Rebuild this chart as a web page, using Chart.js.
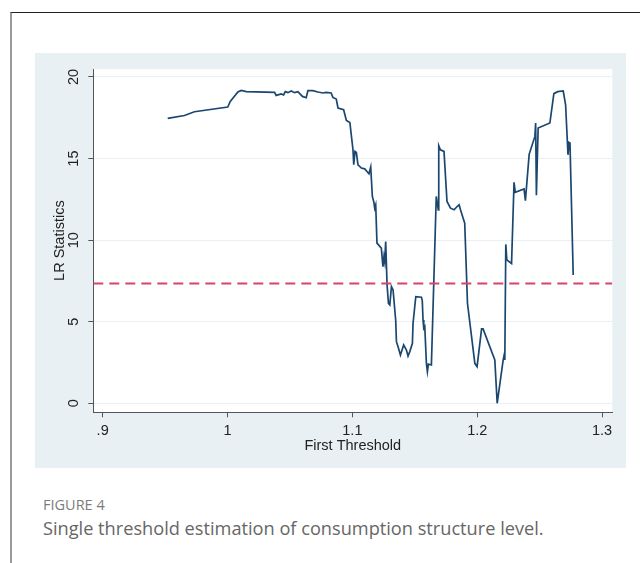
<!DOCTYPE html>
<html>
<head>
<meta charset="utf-8">
<script src="https://cdn.jsdelivr.net/npm/chart.js@4.4.1/dist/chart.umd.min.js"></script>
<style>
  html, body { margin: 0; padding: 0; background: #fff; }
  body { width: 640px; height: 563px; position: relative; overflow: hidden; }
  #frame {
    position: absolute; left: 10px; top: 12px; right: 0; bottom: 0;
    border-top: 1.5px solid #222; border-left: 2px solid #9a9a9a;
  }
  #panel {
    position: absolute; left: 35px; top: 53px; width: 591px; height: 415px;
    background: #e8f0f3;
  }
  .fig { position: absolute; left: 43px; font-family: "Open Sans", sans-serif; }
  #figno { top: 495px; font-size: 14.5px; color: #7c7c7c; }
  #figcap { top: 516px; font-size: 18.2px; color: #666; }
</style>
</head>
<body>
<div id="frame"></div>
<div id="panel"><canvas id="chart"></canvas></div>
<div class="fig" id="figno">FIGURE 4</div>
<div class="fig" id="figcap">Single threshold estimation of consumption structure level.</div>
<script>
// threshold grid (x) and LR statistic (y)
const thresholds = [
  0.9521, 0.9655, 0.9735, 1.0002, 1.0022, 1.0083, 1.0110, 1.0150, 1.0377, 1.0390,
  1.0430, 1.0449, 1.0463, 1.0484, 1.0510, 1.0537, 1.0564, 1.0600, 1.0630, 1.0644,
  1.0684, 1.0724, 1.0764, 1.0790, 1.0830, 1.0844, 1.0871, 1.0885, 1.0930, 1.0952,
  1.0980, 1.1005, 1.1011, 1.1021, 1.1032, 1.1045, 1.1072, 1.1099, 1.1117, 1.1133,
  1.1147, 1.1160, 1.1171, 1.1179, 1.1187, 1.1197, 1.1232, 1.1245, 1.1253, 1.1259,
  1.1267, 1.1278, 1.1289, 1.1300, 1.1313, 1.1326, 1.1347, 1.1353, 1.1366, 1.1385,
  1.1411, 1.1433, 1.1446, 1.1460, 1.1481, 1.1486, 1.1508, 1.1553, 1.1560, 1.1566,
  1.1572, 1.1580, 1.1593, 1.1601, 1.1609, 1.1633, 1.1672, 1.1688, 1.1692, 1.1705,
  1.1734, 1.1758, 1.1786, 1.1815, 1.1839, 1.1855, 1.1866, 1.1900, 1.1922, 1.1981,
  1.1999, 1.2035, 1.2047, 1.2141, 1.2160, 1.2208, 1.2216, 1.2221, 1.2229, 1.2237,
  1.2275, 1.2295, 1.2305, 1.2375, 1.2386, 1.2416, 1.2462, 1.2468, 1.2474, 1.2488,
  1.2582, 1.2614, 1.2644, 1.2689, 1.2708, 1.2727, 1.2735, 1.2743, 1.2769
];
const lrStats = [
  17.46, 17.64, 17.87, 18.16, 18.50, 19.08, 19.18, 19.10, 19.06, 18.87,
  18.96, 18.90, 19.10, 19.04, 19.14, 19.04, 19.10, 18.81, 18.73, 19.16,
  19.16, 19.08, 19.02, 19.06, 19.02, 18.75, 18.65, 18.10, 17.99, 17.34,
  17.21, 15.54, 14.62, 15.44, 15.37, 14.62, 14.42, 14.37, 14.21, 14.07,
  14.48, 12.68, 12.37, 11.96, 12.17, 9.82, 9.51, 8.38, 8.99, 8.69,
  9.91, 7.26, 6.13, 6.03, 7.15, 6.95, 5.11, 3.78, 3.47, 2.96,
  3.58, 3.27, 2.90, 3.17, 3.68, 4.91, 6.54, 6.50, 6.30, 5.10,
  4.60, 4.70, 2.45, 1.94, 2.40, 2.35, 12.68, 11.86, 15.79, 15.54,
  15.44, 12.37, 11.96, 11.86, 12.06, 12.17, 11.86, 11.04, 6.13, 2.45,
  2.25, 4.56, 4.56, 2.66, 0.00, 2.66, 2.96, 2.66, 9.74, 8.79,
  8.57, 13.55, 12.93, 13.14, 12.42, 15.26, 16.36, 17.18, 12.75, 16.87,
  17.18, 18.98, 19.10, 19.14, 18.30, 15.23, 15.99, 15.95, 7.87
];
const critValue = 7.35;

const xTicks = [0.9, 1.0, 1.1, 1.2, 1.3];
const xTickLabels = ['.9', '1', '1.1', '1.2', '1.3'];
const yTicks = [0, 5, 10, 15, 20];
const yTickLabels = ['0', '5', '10', '15', '20'];

const xMin = 0.8925, xMax = 1.3082;
const yMin = -0.55, yMax = 20.49;

const points = thresholds.map((t, i) => ({ x: t, y: lrStats[i] }));
const critLine = [{ x: xMin, y: critValue }, { x: xMax, y: critValue }];

const plotBg = {
  id: 'plotBg',
  beforeDraw(chart) {
    const { ctx, chartArea: a } = chart;
    ctx.save();
    ctx.fillStyle = '#ffffff';
    ctx.fillRect(a.left, a.top, a.right - a.left, a.bottom - a.top);
    ctx.restore();
  }
};

const tickFont = { family: "'Liberation Sans', Arial, sans-serif", size: 14.5 };

new Chart(document.getElementById('chart'), {
  type: 'scatter',
  data: {
    datasets: [
      {
        data: critLine,
        showLine: true,
        borderColor: '#d8436a',
        borderWidth: 2,
        borderDash: [10, 6],
        pointRadius: 0
      },
      {
        data: points,
        showLine: true,
        borderColor: '#1a476f',
        borderWidth: 1.7,
        pointRadius: 0,
        tension: 0
      }
    ]
  },
  options: {
    responsive: true,
    maintainAspectRatio: false,
    animation: false,
    events: [],
    layout: { padding: { top: 16, right: 13.7, left: 0, bottom: 0 } },
    plugins: { legend: { display: false }, tooltip: { enabled: false } },
    scales: {
      x: {
        type: 'linear',
        min: xMin,
        max: xMax,
        afterBuildTicks: s => { s.ticks = xTicks.map(v => ({ value: v })); },
        afterFit: s => { s.height = 55.7; },
        grid: { drawOnChartArea: false, drawTicks: true, tickLength: 5, tickColor: '#555' },
        border: { display: true, color: '#555', width: 1 },
        ticks: {
          color: '#222',
          font: tickFont,
          padding: 5,
          maxRotation: 0,
          callback: (v, i) => xTickLabels[i]
        },
        title: {
          display: true,
          text: 'First Threshold',
          color: '#222',
          font: tickFont,
          padding: { top: 0, bottom: 13 }
        }
      },
      y: {
        type: 'linear',
        min: yMin,
        max: yMax,
        afterBuildTicks: s => { s.ticks = yTicks.map(v => ({ value: v })); },
        afterFit: s => { s.width = 58.3; },
        grid: { color: '#e9f0f3', drawTicks: true, tickLength: 5, tickColor: '#555' },
        border: { display: true, color: '#555', width: 1 },
        ticks: {
          color: '#222',
          font: tickFont,
          padding: 6,
          minRotation: 90,
          maxRotation: 90,
          crossAlign: 'center',
          callback: (v, i) => yTickLabels[i]
        },
        title: {
          display: true,
          text: 'LR Statistics',
          color: '#222',
          font: tickFont,
          padding: { top: 16, bottom: 0 }
        }
      }
    }
  },
  plugins: [plotBg]
});
</script>
</body>
</html>
